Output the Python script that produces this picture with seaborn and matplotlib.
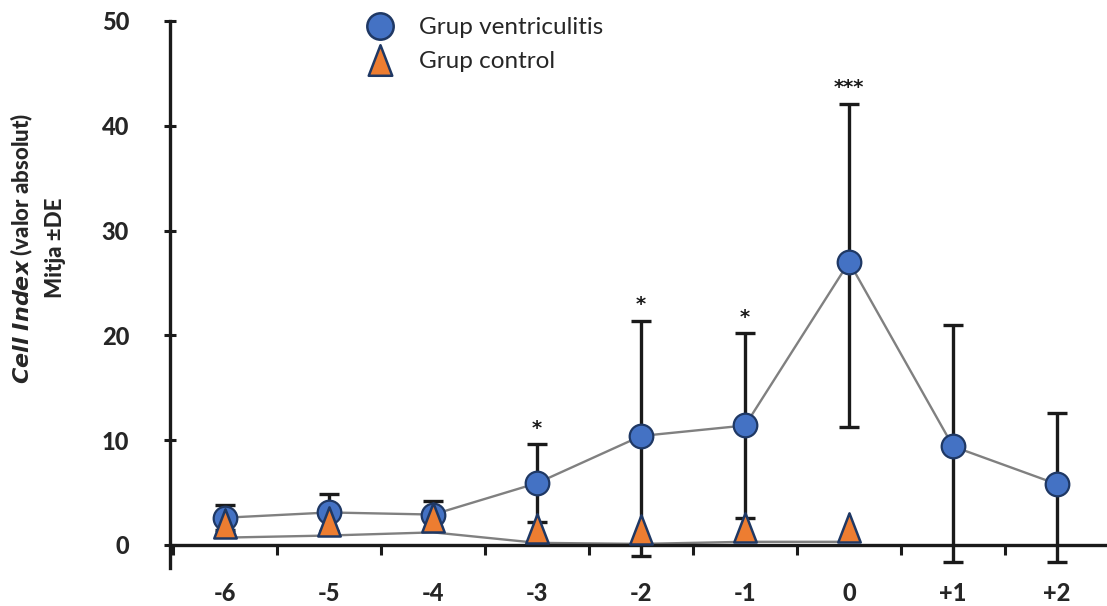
import numpy as np
import pandas as pd
import matplotlib
matplotlib.use("Agg")
import matplotlib.pyplot as plt
from matplotlib.path import Path
from matplotlib.lines import Line2D
from matplotlib.ticker import FixedLocator
import seaborn as sns

# Days relative to the positive culture
dies = ["-6", "-5", "-4", "-3", "-2", "-1", "0", "+1", "+2"]

# Ventriculitis group: mean and the ends of the ±SD bars
ventr_mitja = [2.6, 3.1, 2.9, 5.9, 10.4, 11.4, 27.0, 9.4, 5.8]
ventr_sup = [3.8, 4.9, 4.2, 9.6, 21.4, 20.2, 42.1, 21.0, 12.6]
ventr_inf = [1.4, 1.3, 1.6, 2.2, -1.1, 2.6, 11.3, -1.6, -1.6]

# Control group: mean (days -6 to 0)
control_mitja = [0.7, 0.9, 1.2, 0.2, 0.1, 0.3, 0.3]

# Significance marks above the ventriculitis bars
signif = {"-3": "*", "-2": "*", "-1": "*", "0": "***"}

sns.set_theme(style="white")
plt.rcParams["font.family"] = ["Lato", "DejaVu Sans"]
PES = 900  # heavy weight for axis texts

pos = np.arange(len(dies))
df_v = pd.DataFrame({"pos": pos, "mitja": ventr_mitja,
                     "sup": ventr_sup, "inf": ventr_inf})
df_c = pd.DataFrame({"pos": pos[:len(control_mitja)], "mitja": control_mitja})

blau = "#4472C4"
taronja = "#ED7D31"
vora = "#1F3864"
gris = "#808080"
negre = "#1a1a1a"

# Triangle whose base sits on the data point
tri_base = Path([(-0.77, 0.0), (0.77, 0.0), (0.0, 2.0), (-0.77, 0.0)],
                [Path.MOVETO, Path.LINETO, Path.LINETO, Path.CLOSEPOLY])
# Centered triangle for the legend key
tri_leg = Path([(-0.77, -1.0), (0.77, -1.0), (0.0, 1.0), (-0.77, -1.0)],
               [Path.MOVETO, Path.LINETO, Path.LINETO, Path.CLOSEPOLY])

fig = plt.figure(figsize=(11.07, 6.06), dpi=100)
W, H = 1107, 606
ax = fig.add_axes([170 / W, (H - 568) / H, (1107 - 170) / W, (568 - 21) / H])

# connecting lines
sns.lineplot(data=df_v, x="pos", y="mitja", color=gris, linewidth=1.7,
             ax=ax, zorder=2)
sns.lineplot(data=df_c, x="pos", y="mitja", color=gris, linewidth=1.7,
             ax=ax, zorder=2)

# ±SD bars
err = np.vstack([df_v["mitja"] - df_v["inf"], df_v["sup"] - df_v["mitja"]])
ax.errorbar(df_v["pos"], df_v["mitja"], yerr=err, fmt="none", ecolor=negre,
            elinewidth=2.4, capsize=7, capthick=2.4, zorder=3)

# markers
sns.scatterplot(data=df_v, x="pos", y="mitja", marker="o", s=17 ** 2,
                color=blau, edgecolor=vora, linewidth=1.6, ax=ax, zorder=4)
ax.plot(df_c["pos"], df_c["mitja"], linestyle="none", marker=tri_base,
        markersize=42, markerfacecolor=taronja, markeredgecolor=vora,
        markeredgewidth=1.8, zorder=5)

# significance asterisks
for d, txt in signif.items():
    i = dies.index(d)
    ax.text(i, ventr_sup[i] + 0.6, txt, ha="center", va="bottom",
            fontsize=14, fontweight="bold", color=negre,
            family=["DejaVu Sans"])

# axes styling
ax.set_xlim(-0.53, 8.48)
ax.set_ylim(-2.2, 50)
ax.spines["top"].set_visible(False)
ax.spines["right"].set_visible(False)
ax.spines["bottom"].set_position(("data", 0))
for sp in ("left", "bottom"):
    ax.spines[sp].set_color(negre)
    ax.spines[sp].set_linewidth(2.4)

ax.set_yticks([0, 10, 20, 30, 40, 50])
ax.set_yticklabels(["0", "10", "20", "30", "40", "50"])
ax.tick_params(axis="y", which="major", direction="inout", length=9,
               width=2.2, color=negre, pad=25, labelsize=17,
               left=True)
ax.set_xticks(pos)
ax.set_xticklabels(dies)
ax.tick_params(axis="x", which="major", length=0, pad=27, labelsize=17,
               bottom=True)
ax.xaxis.set_minor_locator(FixedLocator(np.arange(-0.5, 8.6, 1.0)))
ax.tick_params(axis="x", which="minor", direction="out", length=7,
               width=2.2, color=negre, bottom=True)
for lab in ax.get_xticklabels() + ax.get_yticklabels():
    lab.set_fontweight(PES)
ax.set_xlabel("")
ax.set_ylabel("")

# y-axis title in two lines
fig.text(22 / W, 1 - 248 / H, r"$\bfit{Cell\ Index}$ (valor absolut)",
         rotation=90, ha="center", va="center", fontsize=16,
         fontweight=PES)
fig.text(56 / W, 1 - 248 / H, "Mitja ±DE", rotation=90, ha="center",
         va="center", fontsize=16, fontweight=PES)

# legend
handles = [
    Line2D([], [], linestyle="none", marker="o", markersize=19,
           markerfacecolor=blau, markeredgecolor=vora, markeredgewidth=1.8),
    Line2D([], [], linestyle="none", marker=tri_leg, markersize=22,
           markerfacecolor=taronja, markeredgecolor=vora,
           markeredgewidth=1.8),
]
leg = ax.legend(handles, ["Grup ventriculitis", "Grup control"],
                loc="upper left", bbox_to_anchor=(363 / W, 1 - 17 / H),
                bbox_transform=fig.transFigure, frameon=False,
                fontsize=17.5, handlelength=1.4, handletextpad=0.9,
                labelspacing=0.55, borderaxespad=0, borderpad=0)

fig.savefig("out.png", dpi=100)
